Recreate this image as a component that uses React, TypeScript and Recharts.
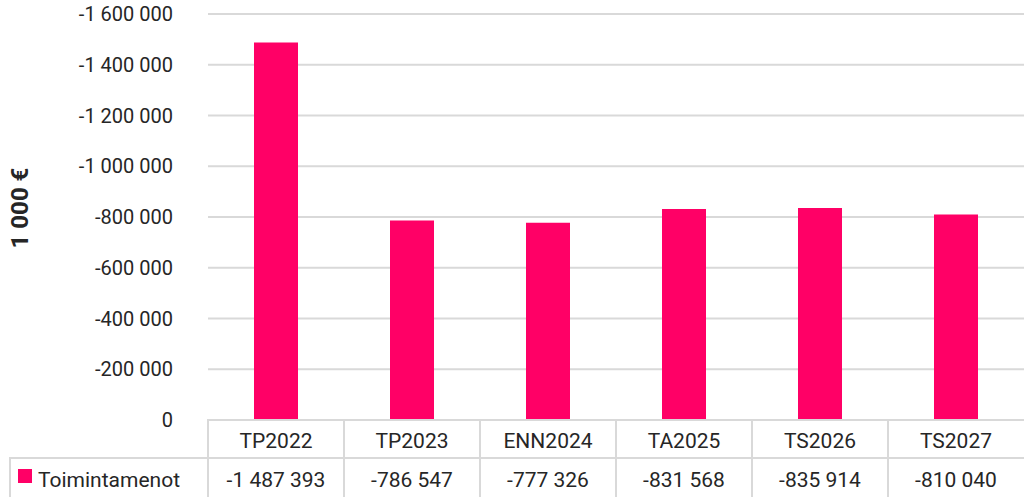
import React from "react";
import { BarChart, Bar, YAxis, XAxis, CartesianGrid } from "recharts";

const categories = ["TP2022", "TP2023", "ENN2024", "TA2025", "TS2026", "TS2027"];
const toimintamenot = [-1487393, -786547, -777326, -831568, -835914, -810040];
const yTicks = [0, -200000, -400000, -600000, -800000, -1000000, -1200000, -1400000, -1600000];

const seriesName = "Toimintamenot";
const axisTitle = "1 000 €";
const barColor = "#FF0066";
const gridColor = "#d9d9d9";
const textColor = "#262626";
const font = "Roboto, 'Noto Sans', sans-serif";

const fmt = (n: number) => {
  const s = String(Math.abs(n)).replace(/\B(?=(\d{3})+(?!\d))/g, " ");
  return n < 0 ? "-" + s : s;
};

const data = categories.map((c, i) => ({ name: c, value: toimintamenot[i] }));

const plotLeft = 208;
const colW = (1024 - plotLeft) / categories.length;

export default function App() {
  return (
    <div
      style={{
        position: "absolute",
        left: 0,
        top: 0,
        width: 1024,
        height: 497,
        background: "#fff",
        overflow: "hidden",
        fontFamily: font,
        color: textColor,
      }}
    >
      <BarChart
        width={1024}
        height={445}
        data={data}
        margin={{ top: 14, right: 0, bottom: 25, left: 8 }}
        barCategoryGap={0}
      >
        <CartesianGrid vertical={false} stroke={gridColor} strokeWidth={2} />
        <XAxis dataKey="name" hide />
        <YAxis
          type="number"
          domain={[-1600000, 0]}
          reversed
          ticks={yTicks}
          interval={0}
          width={200}
          axisLine={false}
          tickLine={false}
          tickSize={0}
          tickMargin={35}
          tickFormatter={fmt}
          tick={{ fill: textColor, fontSize: 20, fontFamily: font }}
        />
        <Bar dataKey="value" fill={barColor} barSize={44} isAnimationActive={false} />
      </BarChart>

      <div
        style={{
          position: "absolute",
          left: 20,
          top: 208,
          transform: "translate(-50%, -50%) rotate(-90deg)",
          fontWeight: 700,
          fontSize: 24,
          whiteSpace: "nowrap",
        }}
      >
        {axisTitle}
      </div>

      {/* data table */}
      <div style={{ position: "absolute", left: plotLeft, top: 419, width: 1024 - plotLeft + 4, height: 2, background: gridColor }} />
      <div style={{ position: "absolute", left: 9, top: 457, width: 1024, height: 2, background: gridColor }} />
      <div style={{ position: "absolute", left: 9, top: 457, width: 2, height: 40, background: gridColor }} />
      {categories.map((c, i) => (
        <div
          key={"v" + c}
          style={{ position: "absolute", left: plotLeft + i * colW - 1, top: 419, width: 2, height: 78, background: gridColor }}
        />
      ))}
      {categories.map((c, i) => (
        <div
          key={"h" + c}
          style={{
            position: "absolute",
            left: plotLeft + i * colW,
            top: 423,
            width: colW,
            height: 36,
            lineHeight: "36px",
            textAlign: "center",
            fontSize: 21,
          }}
        >
          {c}
        </div>
      ))}
      {toimintamenot.map((v, i) => (
        <div
          key={"d" + i}
          style={{
            position: "absolute",
            left: plotLeft + i * colW,
            top: 461,
            width: colW,
            height: 38,
            lineHeight: "38px",
            textAlign: "center",
            fontSize: 21,
          }}
        >
          {fmt(v)}
        </div>
      ))}
      <div style={{ position: "absolute", left: 18, top: 469, width: 14, height: 14, background: barColor }} />
      <div style={{ position: "absolute", left: 38, top: 461, height: 38, lineHeight: "38px", fontSize: 21 }}>
        {seriesName}
      </div>
    </div>
  );
}
